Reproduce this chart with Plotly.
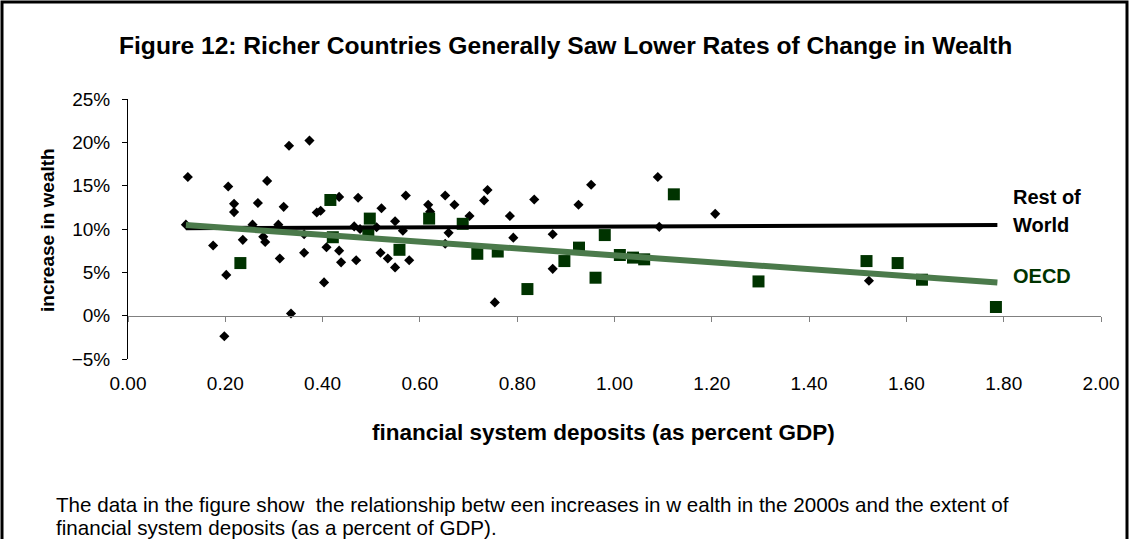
import plotly.graph_objects as go

# ---------------- data ----------------
row_x = [0.123, 0.206, 0.286, 0.218, 0.218, 0.267, 0.320, 0.331, 0.373, 0.119,
         0.175, 0.236, 0.256, 0.278, 0.282, 0.309, 0.362, 0.312, 0.202, 0.335,
         0.388, 0.396, 0.434, 0.408, 0.434, 0.438, 0.403, 0.362, 0.198,
         0.473, 0.465, 0.477, 0.511, 0.521, 0.469, 0.519, 0.534, 0.549, 0.549,
         0.565, 0.571, 0.578, 0.617, 0.621, 0.652, 0.671, 0.702, 0.659, 0.652,
         0.732, 0.739, 0.754, 0.785, 0.792, 0.835, 0.873, 0.873, 0.926,
         0.952, 1.089, 1.207, 1.092, 1.523]
row_y = [16.0, 14.9, 15.55, 12.9, 11.95, 13.0, 12.56, 19.6, 20.2, 10.5,
         8.1, 8.75, 10.5, 9.1, 8.5, 10.5, 7.26, 6.6, 4.7, 0.25,
         11.9, 12.1, 13.7, 7.9, 7.5, 6.15, 3.84, 9.4, -2.38,
         13.6, 10.3, 10.0, 10.2, 12.4, 6.4, 7.26, 6.6, 5.57, 10.9,
         9.8, 13.86, 6.4, 12.8, 12.0, 13.86, 12.8, 11.5, 9.56, 8.3,
         13.3, 14.5, 1.53, 11.5, 9.0, 13.4, 9.4, 5.4, 12.8,
         15.1, 16.0, 11.75, 10.25, 4.03]

oecd_x = [0.231, 0.416, 0.421, 0.497, 0.494, 0.558, 0.619, 0.688, 0.718, 0.760,
          0.821, 0.897, 0.927, 0.961, 0.980, 1.011, 1.038, 1.061, 1.122, 1.296,
          1.518, 1.582, 1.632, 1.784]
oecd_y = [6.07, 13.35, 9.05, 11.2, 9.7, 7.6, 11.2, 10.6, 7.14, 7.4,
          3.07, 6.3, 7.85, 4.38, 9.3, 7.0, 6.7, 6.5, 14.0, 3.95,
          6.3, 6.07, 4.15, 1.0]

trend_x = [0.119, 1.787]
row_trend_y = [10.1, 10.45]
oecd_trend_y = [10.45, 3.84]

x_ticks = [0.0, 0.2, 0.4, 0.6, 0.8, 1.0, 1.2, 1.4, 1.6, 1.8, 2.0]
y_ticks = [-5, 0, 5, 10, 15, 20, 25]

title_text = "Figure 12: Richer Countries Generally Saw Lower Rates of Change in Wealth"
x_title = "financial system deposits (as percent GDP)"
y_title = "increase in wealth"
caption_lines = [
    "The data in the figure show  the relationship betw een increases in w ealth in the 2000s and the extent of",
    "financial system deposits (as a percent of GDP).",
    "Sources: Davies et al. (2011) and Credit Suisse (2010).",
]

# ---------------- styling ----------------
FONT = "Liberation Sans, Arial, sans-serif"
W, H = 1130, 539
L, R, T, B = 128, 29, 99, 180
PW, PH = W - L - R, H - T - B


def px_x(p):
    return (p - L) / PW


def px_y(p):
    return (H - B - p) / PH


fig = go.Figure()

fig.add_trace(go.Scatter(
    x=row_x, y=[v / 100 for v in row_y], mode="markers",
    marker=dict(symbol="diamond", size=7.8, color="black", line=dict(width=0)),
    showlegend=False, hoverinfo="skip"))
fig.add_trace(go.Scatter(
    x=oecd_x, y=[v / 100 for v in oecd_y], mode="markers",
    marker=dict(symbol="square", size=12, color="#003300", line=dict(width=0)),
    showlegend=False, hoverinfo="skip"))
fig.add_trace(go.Scatter(
    x=trend_x, y=[v / 100 for v in row_trend_y], mode="lines",
    line=dict(color="black", width=4), showlegend=False, hoverinfo="skip"))
fig.add_trace(go.Scatter(
    x=trend_x, y=[v / 100 for v in oecd_trend_y], mode="lines",
    line=dict(color="#4b7a4b", width=6), showlegend=False, hoverinfo="skip"))
# helper trace so the zero-line axis (x2) is drawn
fig.add_trace(go.Scatter(x=[None], y=[None], xaxis="x2", yaxis="y",
                         showlegend=False, hoverinfo="skip"))

fig.update_layout(
    width=W, height=H,
    margin=dict(l=L, r=R, t=T, b=B),
    paper_bgcolor="white", plot_bgcolor="white",
    font=dict(family=FONT, size=19, color="black"),
    xaxis=dict(range=[0, 2], tickvals=x_ticks, tickformat=".2f",
               showline=False, showgrid=False, zeroline=False,
               ticks="outside", ticklen=7, tickcolor="rgba(0,0,0,0)",
               tickfont=dict(size=19, family=FONT)),
    xaxis2=dict(range=[0, 2], matches="x", overlaying="x", anchor="free",
                position=5 / 30, side="bottom", tickvals=x_ticks,
                showline=True, linecolor="#808080", linewidth=1,
                ticks="outside", ticklen=5, tickcolor="#808080",
                showticklabels=False, showgrid=False, zeroline=False),
    yaxis=dict(range=[-0.05, 0.25], tickvals=[v / 100 for v in y_ticks],
               tickformat=".0%", showline=True, linecolor="black", linewidth=1,
               ticks="outside", ticklen=5, tickcolor="black",
               ticklabelstandoff=8,
               showgrid=False, zeroline=False,
               tickfont=dict(size=19, family=FONT)),
)

ann = []
ann.append(dict(text="<b>" + title_text + "</b>", x=px_x(565), y=px_y(45),
                xref="paper", yref="paper", showarrow=False,
                xanchor="center", yanchor="middle",
                font=dict(size=24.6, family=FONT, color="black")))
ann.append(dict(text="<b>" + x_title + "</b>", x=px_x(603), y=px_y(432),
                xref="paper", yref="paper", showarrow=False,
                xanchor="center", yanchor="middle",
                font=dict(size=22.5, family=FONT, color="black")))
ann.append(dict(text="<b>" + y_title + "</b>", x=px_x(47), y=px_y(230),
                xref="paper", yref="paper", showarrow=False, textangle=-90,
                xanchor="center", yanchor="middle",
                font=dict(size=19, family=FONT, color="black")))
ann.append(dict(text="<b>Rest of</b>", x=px_x(1011), y=px_y(197),
                xref="paper", yref="paper", showarrow=False,
                xanchor="left", yanchor="middle",
                font=dict(size=20, family=FONT, color="black")))
ann.append(dict(text="<b>World</b>", x=px_x(1011), y=px_y(225),
                xref="paper", yref="paper", showarrow=False,
                xanchor="left", yanchor="middle",
                font=dict(size=20, family=FONT, color="black")))
ann.append(dict(text="<b>OECD</b>", x=px_x(1011), y=px_y(276),
                xref="paper", yref="paper", showarrow=False,
                xanchor="left", yanchor="middle",
                font=dict(size=20, family=FONT, color="#003300")))
for line, yc in zip(caption_lines, [504, 527, 551]):
    ann.append(dict(text=line, x=px_x(54), y=px_y(yc),
                    xref="paper", yref="paper", showarrow=False,
                    xanchor="left", yanchor="middle",
                    font=dict(size=20.6, family=FONT, color="black")))
fig.update_layout(annotations=ann)

fig.add_shape(type="rect", xref="paper", yref="paper",
              x0=px_x(2), x1=px_x(1127), y0=px_y(2), y1=px_y(600),
              line=dict(color="black", width=3), fillcolor="rgba(0,0,0,0)",
              layer="above")

fig.write_html("out.html",
               config={"displayModeBar": False},
               post_script="document.body.style.margin='0';")
